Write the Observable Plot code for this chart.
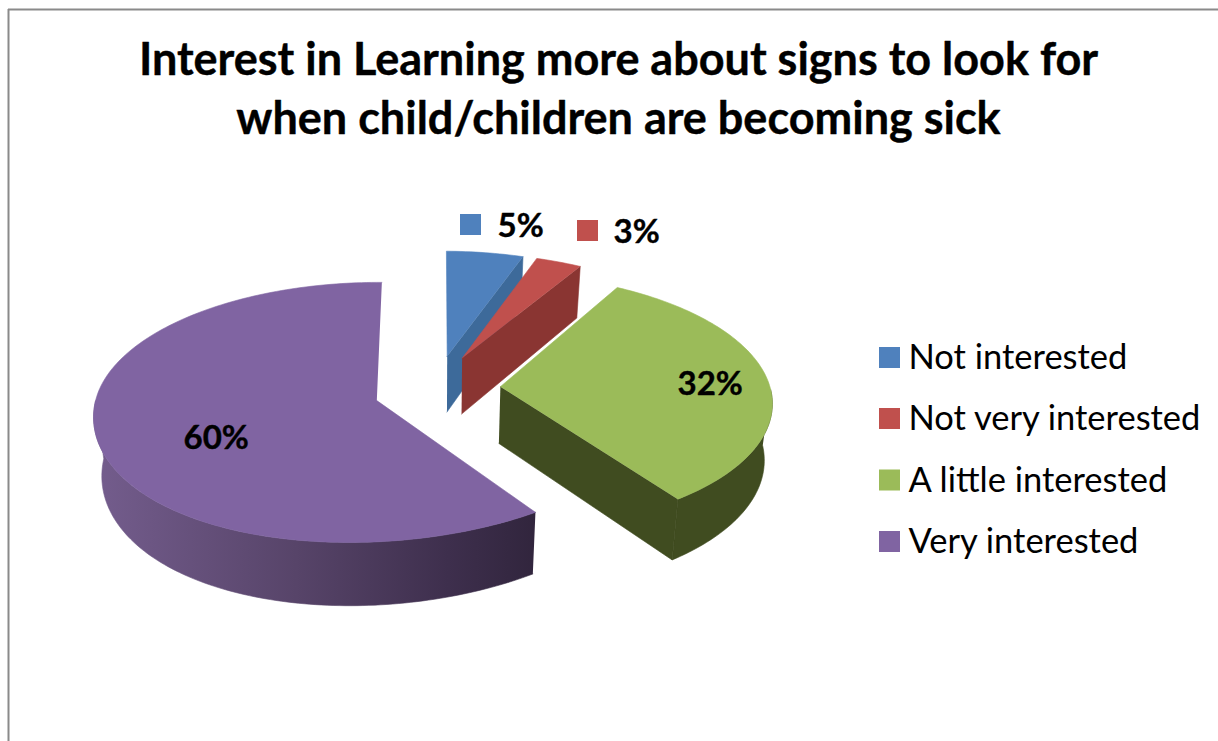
<!DOCTYPE html>
<html>
<head>
<meta charset="utf-8">
<style>html,body{margin:0;padding:0;background:#fff}svg{display:block}</style>
<script src="https://cdn.jsdelivr.net/npm/d3@7"></script>
<script src="https://cdn.jsdelivr.net/npm/@observablehq/plot@0.6"></script>
</head>
<body>
<div id="chart"></div>
<script>
// Survey answers, in the order the slices run clockwise from 12 o'clock
const categories = ["Not interested", "Not very interested", "A little interested", "Very interested"];
const shares = [5, 3, 32, 60];
const topColors = ["#4f81bd", "#c0504d", "#9bbb59", "#8064a2"];
const wallColors = ["#3d6a9a", "#8a3532", "#404c20", "url(#purpleWall)"];
const titleLines = ["Interest in Learning more about signs to look for", "when child/children are becoming sick"];

// Chart geometry, in page pixels
const W = 1218, H = 741;
const pie = {cx: 437, cy: 391, rx: 275, ry: 127, perspY: 0.09, perspX: 0.011, depth: 57, shrink: 0.024, explode: 0.23};
// Per-slice drawing adjustments: tip raised in px, front of the rim leaning in px
const tipLift = [7, 7, 3, 0];
const frontLean = [0, 0, 1, -18];
const swatch = 21;
const labelAnchors = [
  {key: [460, 214], text: [497, 226]},
  {key: [577, 220], text: [613, 232]},
  {text: [677, 384]},
  {text: [183, 438]}
];
const legendLayout = {x: 879, textX: 909, rows: [357.5, 418.5, 480, 541.5]};

// Perspective view of a point on the unit disc; level 0 is the top face, 1 the bottom
function view(u, v, level) {
  const w = 1 - pie.perspY * v + pie.perspX * u;
  return {
    x: pie.cx + (pie.rx * u / w) * (1 - pie.shrink * level),
    y: pie.cy + (pie.ry * v + pie.depth * level) / w
  };
}

const arcs = d3.pie().sort(null).value(d => d).startAngle(0).endAngle(2 * Math.PI)(shares);
const slices = arcs.map((a, i) => {
  const mid = (a.startAngle + a.endAngle) / 2;
  const ou = pie.explode * Math.sin(mid), ov = -pie.explode * Math.cos(mid);
  const rim = (t, level) => {
    const p = view(ou + Math.sin(t), ov - Math.cos(t), level);
    return {x: p.x + frontLean[i] * Math.max(0, -Math.cos(t)) ** 2, y: p.y};
  };
  const apex = level => {
    const p = view(ou, ov, level);
    return {x: p.x, y: p.y - tipLift[i]};
  };
  const sweep = (t0, t1, level) => {
    const n = Math.max(2, Math.ceil((t1 - t0) / 0.02));
    return d3.range(n + 1).map(k => rim(t0 + (t1 - t0) * k / n, level));
  };
  const faces = [];
  // Outer wall: the part of the rim that faces the viewer
  const f0 = Math.max(a.startAngle, Math.PI / 2), f1 = Math.min(a.endAngle, 1.5 * Math.PI);
  if (f1 > f0) faces.push({points: [...sweep(f0, f1, 0), ...sweep(f0, f1, 1).reverse()], fill: wallColors[i]});
  // Cut wall on the clockwise edge of the slice
  if (a.endAngle < Math.PI) {
    faces.push({points: [apex(0), rim(a.endAngle, 0), rim(a.endAngle, 1), apex(1)], fill: wallColors[i]});
  }
  faces.push({points: [apex(0), ...sweep(a.startAngle, a.endAngle, 0)], fill: topColors[i]});
  return faces;
});

// Horizontal gradient of the long purple wall
const purpleGradient = () => {
  const svg = d3.create("svg:defs");
  const g = svg.append("linearGradient").attr("id", "purpleWall")
    .attr("gradientUnits", "userSpaceOnUse")
    .attr("x1", 100).attr("x2", 535).attr("y1", 0).attr("y2", 0);
  [[0, "#735c8c"], [0.45, "#574469"], [0.8, "#3e2f4d"], [1, "#31253d"]].forEach(([o, c]) =>
    g.append("stop").attr("offset", o).attr("stop-color", c));
  return svg.node();
};

const faceMarks = slices.flat().map(f =>
  Plot.line(f.points, {x: "x", y: "y", fill: f.fill, stroke: f.fill, strokeWidth: 0.6, curve: "linear"}));

const keyed = labelAnchors.map((l, i) => ({...l, color: topColors[i], label: `${shares[i]}%`}));
const legendRows = categories.map((name, i) => ({name, color: topColors[i], y: legendLayout.rows[i]}));

const chart = Plot.plot({
  width: W, height: H, margin: 0,
  style: {background: "#fff", fontFamily: "Lato, sans-serif"},
  x: {domain: [0, W], range: [0, W], axis: null},
  y: {domain: [0, H], range: [0, H], axis: null},
  marks: [
    purpleGradient,
    // Frame of the chart area, open past the page edge
    Plot.ruleY([9], {x1: 8, x2: W, stroke: "#8a8a8a", strokeWidth: 2}),
    Plot.ruleX([8], {y1: 9, y2: H, stroke: "#8a8a8a", strokeWidth: 2}),
    Plot.text(titleLines, {
      x: 618, y: (d, i) => 60 + i * 59, text: d => d,
      fontSize: 45, fontWeight: 700, fill: "#000", stroke: "#000", strokeWidth: 0.4,
      fontFamily: "Lato, sans-serif"
    }),
    ...faceMarks,
    Plot.rect(keyed.filter(d => d.key), {
      x1: d => d.key[0], x2: d => d.key[0] + swatch,
      y1: d => d.key[1], y2: d => d.key[1] + swatch, fill: "color"
    }),
    Plot.text(keyed, {
      x: d => d.text[0], y: d => d.text[1], text: "label", textAnchor: "start",
      fontSize: 33, fontWeight: 700, fill: "#000", stroke: "#000", strokeWidth: 0.4,
      fontFamily: "Lato, sans-serif"
    }),
    Plot.rect(legendRows, {
      x1: legendLayout.x, x2: legendLayout.x + swatch,
      y1: d => d.y - swatch / 2, y2: d => d.y + swatch / 2, fill: "color"
    }),
    Plot.text(legendRows, {
      x: legendLayout.textX - 1, y: "y", text: "name", textAnchor: "start",
      fontSize: 34.5, fill: "#000", fontFamily: "Lato, sans-serif"
    })
  ]
});
document.getElementById("chart").append(chart);
</script>
</body>
</html>
